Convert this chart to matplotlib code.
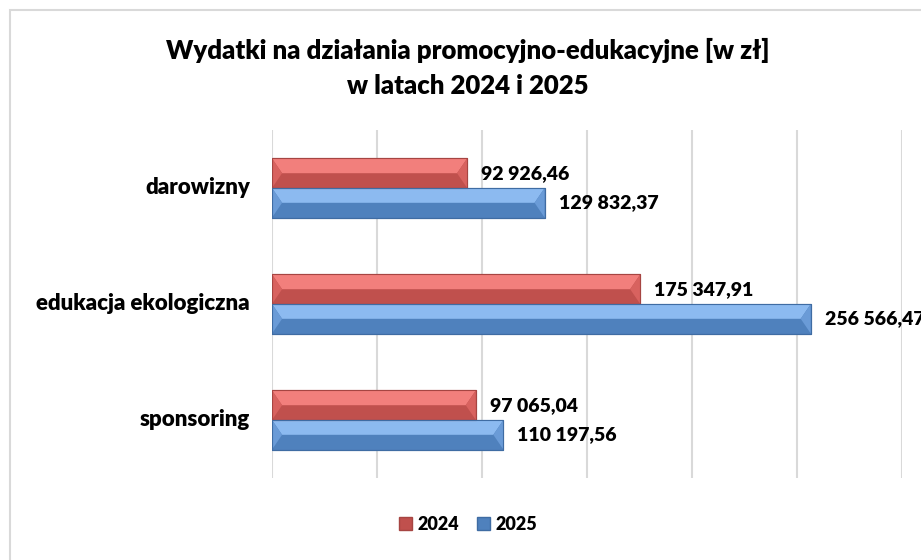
import numpy as np
import matplotlib
matplotlib.use("Agg")
import matplotlib.pyplot as plt
from matplotlib.patches import Rectangle, Patch

# data
categories = ["darowizny", "edukacja ekologiczna", "sponsoring"]
values_2024 = [92926.46, 175347.91, 97065.04]
values_2025 = [129832.37, 256566.47, 110197.56]
series_names = ["2024", "2025"]

plt.rcParams['font.family'] = ['Lato', 'DejaVu Sans']


def fmt_pl(v):
    # polish number format: space as thousands separator, comma as decimal
    s = f"{v:,.2f}"
    return s.replace(",", " ").replace(".", ",")


fig = plt.figure(figsize=(9.21, 5.6), dpi=100)
fig.patch.set_facecolor("white")

# chart frame (cut off on the right/bottom like the original)
fig.patches.append(Rectangle((10 / 921, -0.1), 1.2, 1 - 10 / 560 + 0.1, transform=fig.transFigure,
                             fill=False, edgecolor="#D9D9D9", linewidth=1.5))

ax = fig.add_axes([272 / 921, 1 - 478 / 560, 630 / 921, 348 / 560])
ax.set_xlim(0, 300000)
ax.set_ylim(2.5, -0.5)
ax.set_xticks(np.arange(0, 300001, 50000))
ax.set_yticks([])
ax.tick_params(axis="x", length=0, labelbottom=False)
ax.grid(axis="x", color="#D9D9D9", linewidth=1.5)
ax.set_axisbelow(True)
for sp in ax.spines.values():
    sp.set_visible(False)

y = np.arange(len(categories))
h = 0.255
bx = 4800   # bevel width in data units

styles = {
    "2024": dict(face="#C0504D", top="#F27F7C", side="#D8625F", edge="#A64542"),
    "2025": dict(face="#4F81BD", top="#8CBAF0", side="#6A9BD7", edge="#3F6CA3"),
}


def bevel_bar(vals, offset, st):
    bars = ax.barh(y + offset, vals, height=h, color=st["face"], edgecolor=st["edge"], linewidth=0.8, zorder=2)
    for b in bars:
        x0 = b.get_x()
        w = b.get_width()
        yt = b.get_y()
        yb = yt + b.get_height()
        ym = (yt + yb) / 2
        x1 = x0 + w
        # pillow bevel: light upper half, darker lower half, triangles at the ends
        ax.fill([x0, x1, x1 - bx, x0 + bx], [yt, yt, ym, ym], color=st["top"], lw=0, zorder=3)
        ax.fill([x0, x0 + bx, x0], [yt, ym, yb], color=st["side"], lw=0, zorder=3)
        ax.fill([x1, x1 - bx, x1], [yt, ym, yb], color=st["side"], lw=0, zorder=3)
        ax.add_patch(Rectangle((x0, yt), w, yb - yt, fill=False, edgecolor=st["edge"], lw=0.8, zorder=4))
    return bars


bevel_bar(values_2024, -h / 2, styles["2024"])
bevel_bar(values_2025, h / 2, styles["2025"])

for i in range(len(categories)):
    ax.annotate(fmt_pl(values_2024[i]), xy=(values_2024[i], y[i] - h / 2), xytext=(10, 0),
                textcoords="offset points", va="center", ha="left", fontsize=14, fontweight="heavy",
                annotation_clip=False, zorder=5)
    ax.annotate(fmt_pl(values_2025[i]), xy=(values_2025[i], y[i] + h / 2), xytext=(10, 0),
                textcoords="offset points", va="center", ha="left", fontsize=14, fontweight="heavy",
                annotation_clip=False, zorder=5)
    ax.text(-0.035, 1 - (i + 0.5) / len(categories), categories[i], transform=ax.transAxes,
            ha="right", va="center", fontsize=16, fontweight="heavy")

fig.text(468 / 921, 1 - 50 / 560, "Wydatki na działania promocyjno-edukacyjne [w zł]",
         ha="center", va="center", fontsize=18.5, fontweight="heavy")
fig.text(468 / 921, 1 - 86 / 560, "w latach 2024 i 2025",
         ha="center", va="center", fontsize=18.5, fontweight="heavy")

handles = [Patch(facecolor=styles[s]["face"], edgecolor=styles[s]["edge"]) for s in series_names]
fig.legend(handles, series_names, loc="center", bbox_to_anchor=(468 / 921, 1 - 524 / 560), ncol=2,
           frameon=False, prop=dict(size=13, weight="heavy"), handlelength=0.7, handleheight=0.7,
           handletextpad=0.3, columnspacing=1.0)

fig.savefig("out.png", dpi=100)
